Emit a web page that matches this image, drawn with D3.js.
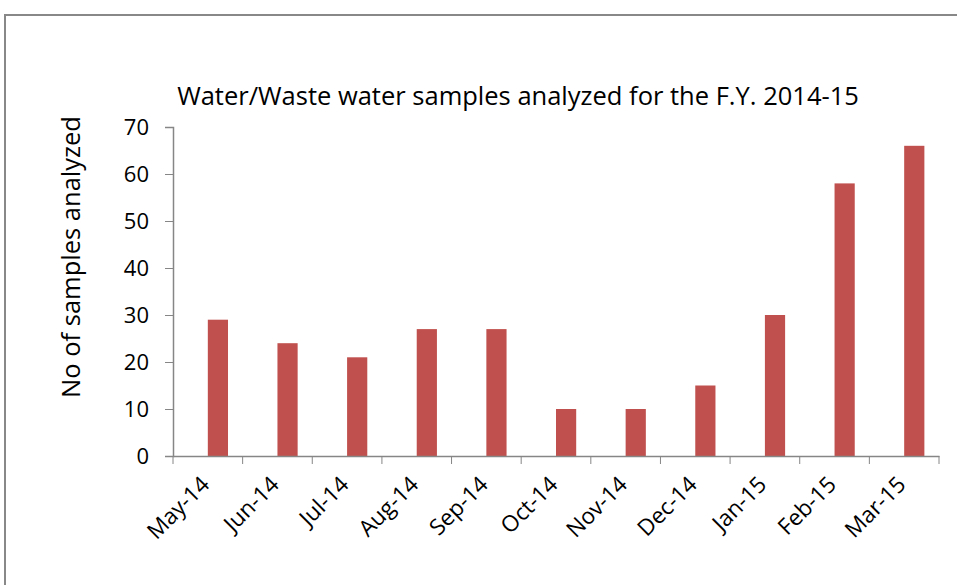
<!DOCTYPE html>
<html>
<head>
<meta charset="utf-8">
<style>
  body { margin: 0; background: #fff; }
  text { font-family: "Open Sans", "Noto Sans", sans-serif; fill: #000; }
</style>
<script src="https://cdn.jsdelivr.net/npm/d3@7"></script>
</head>
<body>
<script>
// Data
var months = ["May-14", "Jun-14", "Jul-14", "Aug-14", "Sep-14", "Oct-14",
              "Nov-14", "Dec-14", "Jan-15", "Feb-15", "Mar-15"];
var samples = [29, 24, 21, 27, 27, 10, 10, 15, 30, 58, 66];
var yTicks = [0, 10, 20, 30, 40, 50, 60, 70];

var W = 957, H = 585;
var margin = {top: 127, right: 18, bottom: 129, left: 173},
    width  = W - margin.left - margin.right,
    height = H - margin.top - margin.bottom;

var svg = d3.select("body").append("svg")
    .attr("width", W)
    .attr("height", H);

// outer chart border (runs off the right and bottom of the frame)
svg.append("rect")
    .attr("x", 5).attr("y", 15)
    .attr("width", W).attr("height", H)
    .attr("fill", "none")
    .attr("stroke", "#888")
    .attr("stroke-width", 2);

var g = svg.append("g")
    .attr("transform", `translate(${margin.left},${margin.top})`);

var x = d3.scaleBand().domain(months).range([0, width]);
var y = d3.scaleLinear().domain([0, 70]).range([height, 0]);

// bars sit in the right half of each category slot
var barW = x.bandwidth() * 0.29;
g.selectAll(".bar")
    .data(months)
  .enter().append("rect")
    .attr("class", "bar")
    .attr("x", (d) => x(d) + x.bandwidth() / 2)
    .attr("y", (d, i) => y(samples[i]))
    .attr("width", barW)
    .attr("height", (d, i) => y(0) - y(samples[i]))
    .attr("fill", "#C0504D");

// y axis
var yAxis = g.append("g")
    .call(d3.axisLeft(y).tickValues(yTicks).tickSize(8).tickPadding(16));
yAxis.selectAll("text").style("font-size", "22px");

// x axis, ticks on category boundaries
var xAxis = g.append("g")
    .attr("transform", `translate(0,${height})`)
    .call(d3.axisBottom(x).tickSize(0).tickFormat(""));
xAxis.selectAll(".tick").remove();
xAxis.selectAll(".bound")
    .data(d3.range(months.length + 1))
  .enter().append("line")
    .attr("class", "bound")
    .attr("x1", (i) => i * x.step()).attr("x2", (i) => i * x.step())
    .attr("y1", 0).attr("y2", 8)
    .attr("stroke", "#868686");

g.selectAll(".xlab")
    .data(months)
  .enter().append("text")
    .attr("class", "xlab")
    .attr("text-anchor", "end")
    .style("font-size", "22.5px")
    .attr("transform", (d) => `translate(${x(d) + x.bandwidth() / 2 + 3},${height + 30}) rotate(-45)`)
    .text((d) => d);

svg.selectAll(".domain, .tick line").attr("stroke", "#868686");
svg.selectAll(".domain").attr("stroke-width", 1.5);

// title
svg.append("text")
    .attr("x", 518).attr("y", 105)
    .attr("text-anchor", "middle")
    .style("font-size", "25.5px")
    .text("Water/Waste water samples analyzed for the F.Y. 2014-15");

// y axis title
svg.append("text")
    .attr("text-anchor", "middle")
    .attr("transform", "translate(80,257) rotate(-90)")
    .style("font-size", "25.5px")
    .text("No of samples analyzed");
</script>
</body>
</html>
